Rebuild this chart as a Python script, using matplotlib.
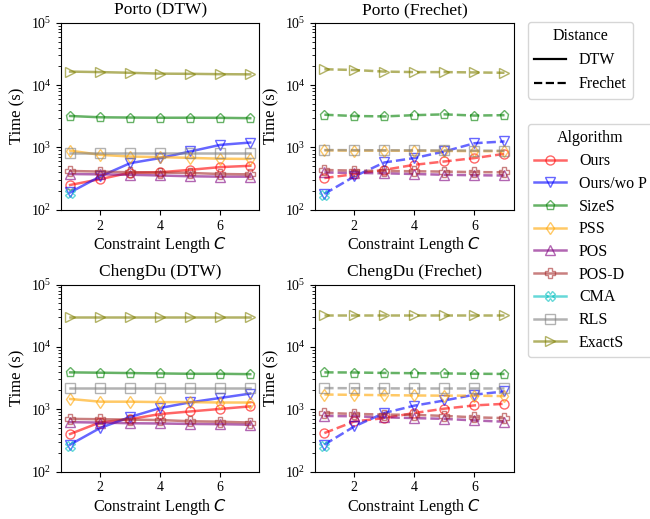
import matplotlib
matplotlib.use("Agg")
import matplotlib.pyplot as plt
from matplotlib.lines import Line2D

plt.rcParams['font.family'] = ['Liberation Serif', 'DejaVu Serif']
plt.rcParams['mathtext.fontset'] = 'dejavusans'
plt.rcParams['font.size'] = 11.5
plt.rcParams['xtick.labelsize'] = 10
plt.rcParams['ytick.labelsize'] = 10

C = [1, 2, 3, 4, 5, 6, 7]

panel_titles = ['Porto (DTW)', 'Porto (Frechet)', 'ChengDu (DTW)', 'ChengDu (Frechet)']
panel_styles = ['-', '--', '-', '--']

# rows: Porto DTW, Porto Frechet, ChengDu DTW, ChengDu Frechet
ours = [[250, 310, 395, 400, 438, 484, 508],
        [323, 373, 438, 527, 596, 676, 790],
        [400, 615, 694, 836, 920, 1010, 1110],
        [414, 636, 720, 870, 1020, 1150, 1220]]
ours_wo_p = [[190, 343, 560, 676, 863, 1100, 1200],
             [180, 343, 575, 676, 863, 1170, 1250],
             [270, 500, 750, 1045, 1290, 1515, 1780],
             [270, 530, 870, 1140, 1380, 1710, 1930]]
sizes = [[3200, 3050, 3020, 3000, 3000, 2990, 2950],
         [3350, 3200, 3150, 3300, 3400, 3250, 3300],
         [3900, 3850, 3800, 3750, 3700, 3700, 3650],
         [3900, 3880, 3820, 3780, 3750, 3700, 3680]]
pss = [[890, 762, 716, 700, 680, 660, 655],
       [900, 890, 890, 885, 880, 875, 870],
       [1460, 1320, 1320, 1300, 1300, 1280, 1280],
       [1720, 1700, 1680, 1660, 1650, 1650, 1620]]
pos = [[375, 370, 365, 355, 345, 340, 340],
       [397, 390, 385, 375, 365, 358, 355],
       [620, 610, 595, 590, 580, 575, 565],
       [780, 770, 740, 720, 700, 660, 630]]
pos_d = [[420, 410, 400, 395, 390, 375, 370],
         [435, 425, 420, 415, 410, 402, 400],
         [700, 690, 680, 670, 640, 630, 610],
         [870, 840, 820, 810, 780, 740, 720]]
cma = [[185], [174], [258], [258]]
rls = [[830, 830, 830, 830, 830, 830, 830],
       [910, 905, 900, 900, 895, 890, 885],
       [2200, 2200, 2200, 2200, 2200, 2200, 2200],
       [2180, 2170, 2160, 2150, 2150, 2150, 2150]]
exacts = [[16500, 16200, 15800, 15300, 15200, 15000, 14900],
          [18000, 17500, 16500, 16200, 16200, 16000, 15800],
          [30000, 30000, 30000, 30000, 30000, 30000, 30000],
          [32000, 32000, 32000, 32000, 32000, 32000, 32000]]

algos = ['Ours', 'Ours/wo P', 'SizeS', 'PSS', 'POS', 'POS-D', 'CMA', 'RLS', 'ExactS']
series = [ours, ours_wo_p, sizes, pss, pos, pos_d, cma, rls, exacts]
colors = ['red', 'blue', 'green', 'orange', 'purple', 'brown', 'c', 'gray', 'olive']
markers = ['o', 'v', 'p', 'd', '^', 'P', 'X', 's', '>']

fig, axes = plt.subplots(2, 2, figsize=(6.5, 5.19), dpi=100)
plt.subplots_adjust(left=0.094, right=0.79, top=0.956, bottom=0.0915,
                    wspace=0.283, hspace=0.40)

for i, ax in enumerate(axes.flat):
    for name, data, col, mk in zip(algos, series, colors, markers):
        y = data[i]
        ax.plot(C[:len(y)], y, linestyle=panel_styles[i], color=col, marker=mk,
                markerfacecolor='none', markersize=6.5, linewidth=1.8, alpha=0.6,
                label=name)
    ax.set_yscale('log')
    ax.set_ylim(100, 100000)
    ax.set_xticks([2, 4, 6])
    ax.set_title(panel_titles[i], fontsize=12.5)
    ax.set_xlabel('Constraint Length $C$', fontsize=11.6, labelpad=2)
    ax.set_ylabel('Time (s)', fontsize=12)

# Legend for distance line styles
dist_handles = [Line2D([0], [0], color='k', linestyle='-', linewidth=1.6),
                Line2D([0], [0], color='k', linestyle='--', linewidth=1.6)]
leg1 = fig.legend(dist_handles, ['DTW', 'Frechet'], title='Distance',
                  loc='upper left', bbox_to_anchor=(0.812, 0.958),
                  borderaxespad=0, fontsize=11.5, title_fontsize=11.5)

# Legend for algorithms
algo_handles = [Line2D([0], [0], color=col, marker=mk, markerfacecolor='none',
                       markersize=6.5, linewidth=1.8, alpha=0.6)
                for col, mk in zip(colors, markers)]
leg2 = fig.legend(algo_handles, algos, title='Algorithm', loc='upper left',
                  bbox_to_anchor=(0.812, 0.761), borderaxespad=0,
                  fontsize=11.5, title_fontsize=11.5, labelspacing=0.42)

plt.savefig('out.png', dpi=100)
